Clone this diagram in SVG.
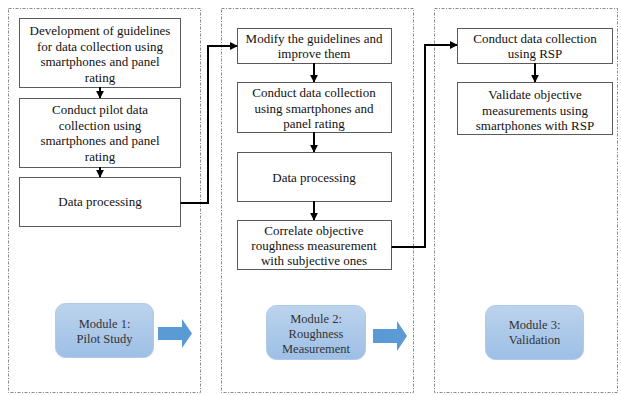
<svg xmlns="http://www.w3.org/2000/svg" width="621" height="395" viewBox="0 0 621 395">
<defs>
<linearGradient id="mg" x1="0" y1="0" x2="0" y2="1">
<stop offset="0" stop-color="#bcd3ec"/>
<stop offset="1" stop-color="#9dbfe6"/>
</linearGradient>
<marker id="ah" viewBox="0 0 10 10" refX="9" refY="5" markerWidth="4" markerHeight="4" orient="auto" markerUnits="strokeWidth">
<path d="M0,0 L10,5 L0,10 z" fill="#000"/>
</marker>
<style>
.panel{fill:none;stroke:#8a8a8a;stroke-width:1;stroke-dasharray:3,1.5,1,1.5}
.box{fill:#fff;stroke:#5a5a5a;stroke-width:1}
.t{font-size:13px;fill:#111;text-anchor:middle}
.mt{font-size:12.5px;fill:#333;text-anchor:middle}
.mod{fill:url(#mg);stroke:#afcaea;stroke-width:1}
.conn{fill:none;stroke:#000;stroke-width:2;marker-end:url(#ah)}
.blk{fill:#5b9bd5}
</style>
</defs>
<g id="panels">
<rect class="panel" x="8.5" y="8.5" width="192" height="384"/>
<rect class="panel" x="221.5" y="8.5" width="192" height="384"/>
<rect class="panel" x="434.5" y="8.5" width="183" height="384"/>
</g>
<g font-family="Liberation Serif, DejaVu Serif, serif">
<g id="m1b1"><rect class="box" x="19.5" y="18.5" width="161" height="69"/>
<text class="t" x="100" y="35">Development of guidelines</text>
<text class="t" x="100" y="50.5">for data collection using</text>
<text class="t" x="100" y="66">smartphones and panel</text>
<text class="t" x="100" y="81.5">rating</text></g>
<g id="m1b2"><rect class="box" x="19.5" y="98.5" width="161" height="69"/>
<text class="t" x="100" y="114">Conduct pilot data</text>
<text class="t" x="100" y="129.5">collection using</text>
<text class="t" x="100" y="145">smartphones and panel</text>
<text class="t" x="100" y="160.5">rating</text></g>
<g id="m1b3"><rect class="box" x="19.5" y="177.5" width="161" height="49"/>
<text class="t" x="100" y="206">Data processing</text></g>
<g id="m2b1"><rect class="box" x="237.5" y="28.5" width="154" height="35"/>
<text class="t" x="314" y="43">Modify the guidelines and</text>
<text class="t" x="314" y="58">improve them</text></g>
<g id="m2b2"><rect class="box" x="237.5" y="82.5" width="154" height="50"/>
<text class="t" x="314" y="97">Conduct data collection</text>
<text class="t" x="314" y="112.5">using smartphones and</text>
<text class="t" x="314" y="128">panel rating</text></g>
<g id="m2b3"><rect class="box" x="237.5" y="152.5" width="154" height="49"/>
<text class="t" x="314" y="182">Data processing</text></g>
<g id="m2b4"><rect class="box" x="237.5" y="220.5" width="154" height="49"/>
<text class="t" x="314" y="235">Correlate objective</text>
<text class="t" x="314" y="250">roughness measurement</text>
<text class="t" x="314" y="265">with subjective ones</text></g>
<g id="m3b1"><rect class="box" x="457.5" y="28.5" width="155" height="35"/>
<text class="t" x="535" y="43">Conduct data collection</text>
<text class="t" x="535" y="58">using RSP</text></g>
<g id="m3b2"><rect class="box" x="457.5" y="82.5" width="155" height="52"/>
<text class="t" x="535" y="99">Validate objective</text>
<text class="t" x="535" y="114.5">measurements using</text>
<text class="t" x="535" y="130">smartphones with RSP</text></g>
<g id="mod1"><rect class="mod" x="55.5" y="303.5" width="98" height="54" rx="10"/>
<text class="mt" x="104.5" y="328">Module 1:</text>
<text class="mt" x="104.5" y="343">Pilot Study</text></g>
<g id="mod2"><rect class="mod" x="266.5" y="305.5" width="99" height="54" rx="10"/>
<text class="mt" x="316" y="323">Module 2:</text>
<text class="mt" x="316" y="338">Roughness</text>
<text class="mt" x="316" y="353">Measurement</text></g>
<g id="mod3"><rect class="mod" x="485.5" y="305.5" width="98" height="54" rx="10"/>
<text class="mt" x="534.5" y="329">Module 3:</text>
<text class="mt" x="534.5" y="344">Validation</text></g>
</g>
<g id="blockarrows">
<path class="blk" d="M158,327 L182,327 L182,319 L192,333.5 L182,348 L182,340 L158,340 z"/>
<path class="blk" d="M373,329 L397,329 L397,321 L407,336 L397,351 L397,343 L373,343 z"/>
</g>
<g id="connectors">
<line class="conn" x1="100" y1="87" x2="100" y2="98"/>
<line class="conn" x1="100" y1="167" x2="100" y2="177"/>
<polyline class="conn" points="180.5,203 208,203 208,46 237,46"/>
<line class="conn" x1="314" y1="63" x2="314" y2="82"/>
<line class="conn" x1="314" y1="132" x2="314" y2="152"/>
<line class="conn" x1="314" y1="201" x2="314" y2="220"/>
<polyline class="conn" points="391.5,247 425,247 425,45 457,45"/>
<line class="conn" x1="535" y1="63" x2="535" y2="82"/>
</g>
</svg>
